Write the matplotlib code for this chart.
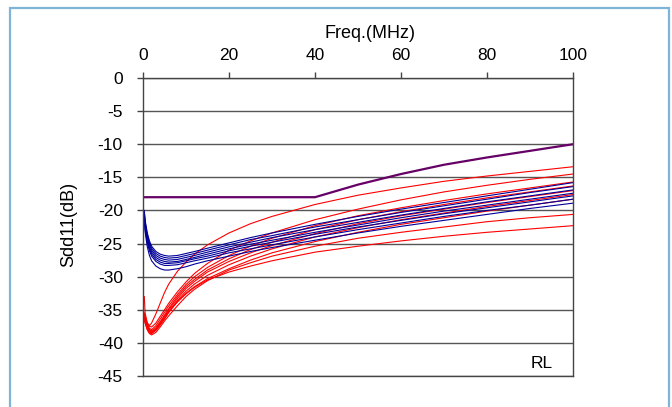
import matplotlib
matplotlib.use("Agg")
import matplotlib.pyplot as plt
from matplotlib.patches import Rectangle

plt.rcParams['font.family'] = ['Liberation Sans', 'DejaVu Sans']
plt.rcParams['axes.unicode_minus'] = False

# -------- Data --------
freq = [0.3, 0.5, 1, 1.5, 2, 3, 4, 5, 6, 8, 10, 12, 15, 20, 25, 30, 40, 50, 60, 70, 80, 90, 100]

# red traces (Sdd11, dB)
red_1 = [-33.0, -35.5, -37.0, -37.4, -37.0, -35.6, -34.0, -32.4, -31.1, -29.2, -27.8, -26.6, -25.2, -23.4, -22.0, -20.9, -19.1, -17.7, -16.6, -15.6, -14.8, -14.1, -13.4]
red_2 = [-35.5, -36.0, -37.0, -37.5, -37.6, -37.0, -36.0, -35.0, -34.0, -32.3, -30.8, -29.5, -28.0, -26.0, -24.6, -23.4, -21.4, -19.8, -18.4, -17.2, -16.2, -15.3, -14.5]
red_3 = [-35.8, -36.2, -37.2, -37.8, -38.0, -37.4, -36.4, -35.4, -34.4, -32.7, -31.2, -30.0, -28.6, -26.8, -25.4, -24.2, -22.3, -20.8, -19.6, -18.5, -17.5, -16.6, -15.7]
red_4 = [-36.0, -36.4, -37.4, -38.0, -38.2, -37.7, -36.8, -35.8, -34.8, -33.0, -31.5, -30.4, -29.0, -27.3, -25.9, -24.8, -22.9, -21.4, -20.2, -19.1, -18.1, -17.2, -16.3]
red_5 = [-36.2, -36.6, -37.6, -38.2, -38.4, -37.9, -37.0, -36.0, -35.0, -33.3, -31.8, -30.7, -29.3, -27.7, -26.4, -25.3, -23.5, -22.0, -20.8, -19.8, -18.8, -17.9, -17.0]
red_6 = [-36.4, -36.8, -37.8, -38.3, -38.5, -38.0, -37.2, -36.3, -35.3, -33.6, -32.2, -31.1, -29.8, -28.2, -26.9, -25.8, -24.0, -22.6, -21.4, -20.4, -19.4, -18.5, -17.6]
red_7 = [-36.5, -37.0, -38.0, -38.5, -38.6, -38.1, -37.3, -36.4, -35.4, -33.8, -32.5, -31.5, -30.3, -28.8, -27.5, -26.4, -24.7, -23.3, -22.1, -21.1, -20.1, -19.2, -18.3]
red_8 = [-36.0, -37.0, -38.0, -38.6, -38.8, -38.4, -37.6, -36.7, -35.9, -34.4, -33.0, -31.9, -30.6, -29.0, -27.9, -26.9, -25.4, -24.2, -23.3, -22.5, -21.7, -21.1, -20.6]
red_9 = [-35.5, -36.5, -37.5, -38.0, -38.3, -38.0, -37.0, -36.0, -35.2, -33.8, -32.6, -31.6, -30.5, -29.3, -28.4, -27.6, -26.3, -25.4, -24.6, -23.9, -23.3, -22.8, -22.3]

# blue traces (Sdd11, dB)
blue_1 = [-20.0, -21.5, -23.4, -24.6, -25.4, -26.2, -26.6, -26.8, -26.9, -26.8, -26.5, -26.2, -25.7, -24.9, -24.1, -23.4, -22.1, -20.9, -19.8, -18.8, -17.8, -16.8, -15.8]
blue_2 = [-20.2, -21.8, -23.7, -24.9, -25.7, -26.5, -26.9, -27.1, -27.2, -27.1, -26.8, -26.5, -26.0, -25.2, -24.4, -23.8, -22.5, -21.4, -20.3, -19.3, -18.3, -17.3, -16.4]
blue_3 = [-20.5, -22.0, -24.0, -25.2, -26.0, -26.8, -27.2, -27.4, -27.5, -27.4, -27.1, -26.8, -26.3, -25.5, -24.8, -24.1, -22.9, -21.8, -20.7, -19.7, -18.7, -17.8, -16.9]
blue_4 = [-20.8, -22.3, -24.3, -25.5, -26.3, -27.1, -27.5, -27.7, -27.8, -27.7, -27.4, -27.1, -26.6, -25.8, -25.1, -24.5, -23.3, -22.2, -21.1, -20.1, -19.2, -18.3, -17.4]
blue_5 = [-21.0, -22.6, -24.6, -25.8, -26.6, -27.4, -27.8, -28.0, -28.0, -27.9, -27.6, -27.3, -26.9, -26.1, -25.4, -24.8, -23.6, -22.5, -21.5, -20.5, -19.6, -18.7, -17.8]
blue_6 = [-21.2, -22.9, -24.9, -26.1, -26.9, -27.7, -28.1, -28.3, -28.3, -28.2, -27.9, -27.6, -27.2, -26.4, -25.8, -25.2, -24.0, -22.9, -21.9, -20.9, -20.0, -19.2, -18.3]
blue_7 = [-21.5, -23.3, -25.5, -26.8, -27.6, -28.4, -28.8, -29.0, -29.0, -28.8, -28.5, -28.1, -27.6, -26.9, -26.2, -25.6, -24.5, -23.4, -22.4, -21.5, -20.6, -19.7, -18.9]

# limit line
limit_freq = [0.3, 40, 50, 60, 70, 80, 90, 100]
limit_db = [-18.0, -18.0, -16.1, -14.5, -13.1, -12.0, -11.0, -10.0]

red_traces = [red_1, red_2, red_3, red_4, red_5, red_6, red_7, red_8, red_9]
blue_traces = [blue_1, blue_2, blue_3, blue_4, blue_5, blue_6, blue_7]

x_ticks = [0, 20, 40, 60, 80, 100]
y_ticks = [0, -5, -10, -15, -20, -25, -30, -35, -40, -45]

# -------- Figure --------
fig = plt.figure(figsize=(6.72, 4.07), dpi=100)
fig.patches.append(Rectangle((10 / 672, -0.05), 659 / 672, 1.04 - 4 / 407,
                             transform=fig.transFigure, fill=False,
                             edgecolor="#7db4d8", linewidth=1.6))

ax = fig.add_axes([143 / 672, 1 - 376 / 407, 430 / 672, 298 / 407])

for ys in red_traces:
    ax.plot(freq, ys, color="#ff0000", linewidth=0.8)
for ys in blue_traces:
    ax.plot(freq, ys, color="#000099", linewidth=0.8)
ax.plot(limit_freq, limit_db, color="#660066", linewidth=1.6)

ax.set_xlim(0, 100)
ax.set_ylim(-45, 0)
ax.set_yticks(y_ticks)
ax.set_xticks(x_ticks)
ax.yaxis.grid(True, color="#555555", linewidth=1.0)
ax.set_axisbelow(True)

ax.xaxis.tick_top()
ax.xaxis.set_label_position("top")
ax.tick_params(axis="x", direction="out", length=4.5, width=1, color="#444444",
               labelsize=12.5, pad=6.5)
ax.tick_params(axis="y", direction="out", length=4.5, width=1, color="#444444",
               labelsize=12.5, pad=10)
for s in ax.spines.values():
    s.set_color("#444444")
    s.set_linewidth(1.0)

ax.set_xlabel("Freq.(MHz)", fontsize=13)
ax.xaxis.set_label_coords(0.528, 1.135)
ax.set_ylabel("Sdd11(dB)", fontsize=13, va="center")
ax.yaxis.set_label_coords(-0.172, 0.507)

ax.text(92.7, -43.1, "RL", fontsize=12.5, ha="center", va="center")

fig.savefig("out.png", dpi=100)
